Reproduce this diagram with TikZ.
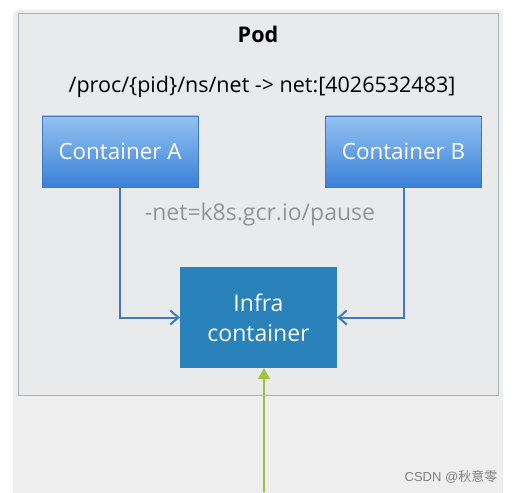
\documentclass[tikz,border=0pt]{standalone}
\usepackage{fontspec}
\setmainfont{Open Sans}
\newfontfamily\wmfont{Liberation Sans}
\newfontfamily\cjk{Noto Sans CJK SC}
\usetikzlibrary{arrows.meta,positioning}
\definecolor{outergrey}{HTML}{EEEEEE}
\definecolor{podfill}{HTML}{E8EAEC}
\definecolor{podedge}{HTML}{A9B2BA}
\definecolor{boxtop}{HTML}{94C2F2}
\definecolor{boxbottom}{HTML}{3A80D8}
\definecolor{boxedge}{HTML}{3F78BE}
\definecolor{infrablue}{HTML}{2A82BA}
\definecolor{linkblue}{HTML}{3C7AC4}
\definecolor{feedgreen}{HTML}{A2C13C}
\tikzset{
  box/.style={draw=boxedge, top color=boxtop, bottom color=boxbottom,
    minimum width=156pt, minimum height=71pt, text=white,
    font=\fontsize{22.4}{26}\selectfont},
  infrabox/.style={fill=infrablue, minimum width=157pt, minimum height=101pt,
    text=white, align=center, font=\fontsize{23}{30}\selectfont},
  link/.style={draw=linkblue, line width=2pt,
    -{Straight Barb[length=8pt,width=14pt,line width=2pt]}},
  feedline/.style={draw=feedgreen, line width=1.8pt,
    -{Triangle[length=11pt,width=12pt]}},
}
\begin{document}
\begin{tikzpicture}[x=1pt,y=-1pt]
  \useasboundingbox (0,0) rectangle (516,492);
  \fill[outergrey, rounded corners=6pt] (13,10) rectangle (503,510);
  \node[draw=podedge, fill=podfill, line width=1pt, anchor=north west,
    minimum width=480pt, minimum height=382pt] (pod) at (18,13) {};
  \node[font=\bfseries\fontsize{21.6}{26}\selectfont] (title) at (258,34) {Pod};
  \node[font=\fontsize{21.5}{26}\selectfont] (path) at (262,87)
    {/proc/\{pid\}/ns/net -> net:[4026532483]};
  \node[box] (cA) at (120,151.5) {Container A};
  \node[box] (cB) at (403.5,151.5) {Container B};
  \node[text=black!42, font=\fontsize{23}{26}\selectfont] (netlabel) at (260,215)
    {-net=k8s.gcr.io/pause};
  \node[infrabox] (infra) at (258.5,317.5) {Infra\\container};
  \coordinate (feed) at (264,492);
  \draw[link] (cA.south) |- (infra.west);
  \draw[link] (cB.south) |- (infra.east);
  \draw[feedline] (feed) -- (feed |- infra.south);
  \node[text=black!50, font=\wmfont\fontsize{13}{15}\selectfont] (mark) at (451,477)
    {CSDN @{\cjk 秋意零}};
\end{tikzpicture}
\end{document}
